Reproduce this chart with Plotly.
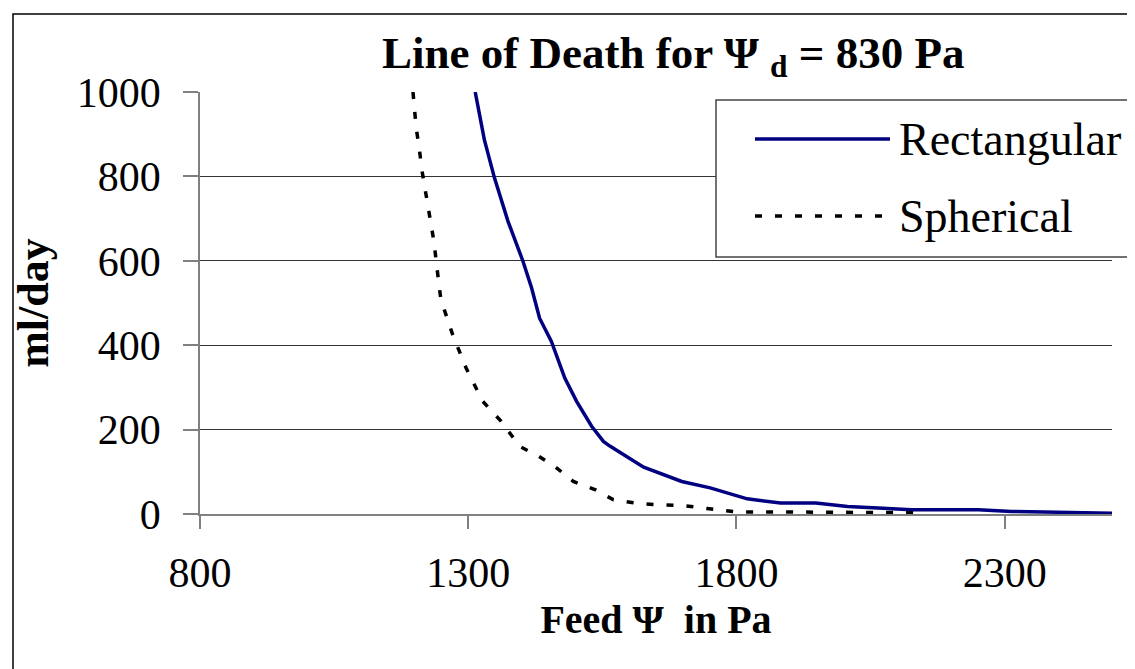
import plotly.graph_objects as go

# Rectangular (solid navy)
rect_x = [1313, 1330, 1349, 1374, 1402, 1418, 1433, 1455, 1480, 1502, 1530, 1552, 1564,
          1627, 1698, 1751, 1820, 1882, 1948, 2007, 2064, 2126, 2251, 2313, 2500]
rect_y = [1000, 887, 796, 694, 599, 536, 464, 409, 322, 267, 208, 172, 161,
          111, 77, 62, 36, 26, 26, 18, 14, 10, 10, 6, 2]

# Spherical (dashed black)
sph_x = [1197, 1203, 1209, 1214, 1236, 1242, 1244, 1249, 1271, 1296, 1327, 1361, 1377,
         1396, 1430, 1461, 1496, 1536, 1570, 1611, 1652, 1700, 1745, 1801, 1860, 1920,
         1980, 2040, 2100, 2132]
sph_y = [1000, 915, 863, 812, 646, 591, 559, 508, 425, 346, 267, 220, 192,
         160, 138, 113, 77, 58, 34, 26, 22, 20, 13, 5, 5, 5, 5, 5, 4, 3]

series_names = ["Rectangular", "Spherical"]
x_ticks = [800, 1300, 1800, 2300]
y_ticks = [0, 200, 400, 600, 800, 1000]

FONT = "Liberation Serif"

fig = go.Figure()
fig.add_trace(go.Scatter(x=rect_x, y=rect_y, mode="lines", name=series_names[0],
                         line=dict(color="#000080", width=3.5), showlegend=False))
fig.add_trace(go.Scatter(x=sph_x, y=sph_y, mode="lines", name=series_names[1],
                         line=dict(color="#000000", width=3.5, dash="7px,13px"),
                         showlegend=False))

L, R, T, B = 192, 31, 84, 163
W, H = 1135, 669
pw, ph = W - L - R, H - T - B

def px(x):
    return (x - L) / pw

def py(y):
    return (H - B - y) / ph

shapes = [
    # outer chart border (right and bottom edges fall outside the picture)
    dict(type="rect", xref="paper", yref="paper", x0=px(5), x1=px(1160), y0=py(690), y1=py(6),
         line=dict(color="#000000", width=1.5), fillcolor="rgba(0,0,0,0)", layer="below"),
    # legend box
    dict(type="rect", xref="paper", yref="paper", x0=px(708), x1=px(1134), y0=py(249), y1=py(92),
         line=dict(color="#444444", width=1.5), fillcolor="#ffffff", layer="above"),
    dict(type="line", xref="paper", yref="paper", x0=px(747), x1=px(882), y0=py(131), y1=py(131),
         line=dict(color="#000080", width=3.5)),
    dict(type="line", xref="paper", yref="paper", x0=px(747), x1=px(882), y0=py(208), y1=py(208),
         line=dict(color="#000000", width=3.5, dash="7px,13px")),
]

annotations = [
    dict(text=series_names[0], xref="paper", yref="paper", x=px(889), y=py(131),
         xanchor="left", yanchor="middle", showarrow=False,
         font=dict(family=FONT, size=46, color="#000000")),
    dict(text=series_names[1], xref="paper", yref="paper", x=px(889), y=py(208),
         xanchor="left", yanchor="middle", showarrow=False,
         font=dict(family=FONT, size=46, color="#000000")),
    dict(text="<b>Line of Death for Ψ <sub>d</sub> = 830 Pa</b>", xref="paper", yref="paper",
         x=px(665), y=py(48), xanchor="center", yanchor="middle", showarrow=False,
         font=dict(family=FONT, size=45, color="#000000")),
]

fig.update_layout(
    width=W, height=H,
    margin=dict(l=L, r=R, t=T, b=B, autoexpand=False),
    paper_bgcolor="#ffffff", plot_bgcolor="#ffffff",
    font=dict(family=FONT, color="#000000"),
    shapes=shapes, annotations=annotations,
    showlegend=False,
)
fig.update_xaxes(
    range=[800, 2500], tickvals=x_ticks, ticktext=[str(v) for v in x_ticks],
    showgrid=False, zeroline=False, showline=True, linecolor="#808080", linewidth=1.5,
    ticks="outside", ticklen=13, tickcolor="#808080", tickwidth=1.5,
    tickfont=dict(family=FONT, size=42), ticklabelstandoff=8,
    title=dict(text="<b>Feed Ψ  in Pa</b>", font=dict(family=FONT, size=40), standoff=10),
)
fig.update_yaxes(
    range=[0, 1000], tickvals=y_ticks,
    showgrid=True, gridcolor="#333333", gridwidth=1,
    zeroline=False, showline=True, linecolor="#808080", linewidth=1.5,
    ticks="outside", ticklen=15, tickcolor="#808080", tickwidth=1.5,
    tickfont=dict(family=FONT, size=42), ticklabelstandoff=14,
    title=dict(text="<b>ml/day</b>", font=dict(family=FONT, size=44), standoff=14),
)

fig.write_html("out.html")
